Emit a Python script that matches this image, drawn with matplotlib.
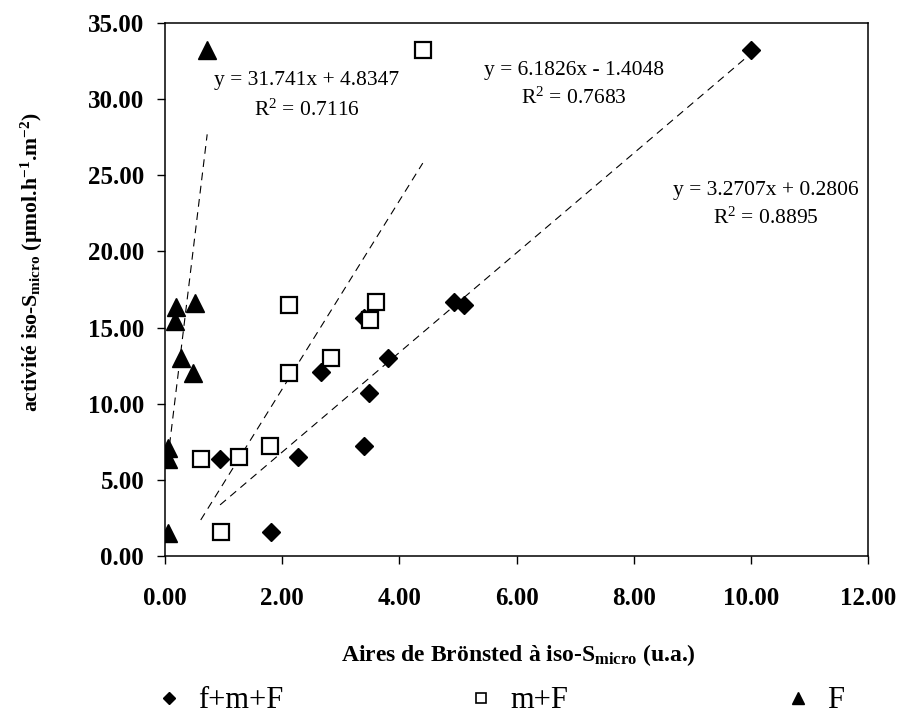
import matplotlib
matplotlib.use("Agg")
import matplotlib.pyplot as plt
from matplotlib.lines import Line2D
import numpy as np

plt.rcParams['font.family'] = ['Liberation Serif', 'DejaVu Serif']
plt.rcParams['mathtext.fontset'] = 'custom'
plt.rcParams['mathtext.rm'] = 'Liberation Serif'
plt.rcParams['mathtext.it'] = 'Liberation Serif:italic'
plt.rcParams['mathtext.bf'] = 'Liberation Serif:bold'

# ---- data ----
fmF_x = [10.0, 4.93, 5.10, 3.40, 3.80, 2.67, 3.48, 3.39, 2.27, 0.94, 1.81]
fmF_y = [33.2, 16.7, 16.5, 15.6, 13.0, 12.1, 10.7, 7.2, 6.5, 6.4, 1.6]
mF_x = [4.40, 3.61, 3.50, 2.11, 2.83, 2.11, 1.79, 1.26, 0.61, 0.95]
mF_y = [33.2, 16.7, 15.5, 16.5, 13.0, 12.0, 7.2, 6.5, 6.4, 1.6]
F_x = [0.72, 0.52, 0.19, 0.17, 0.27, 0.47, 0.05, 0.05, 0.05]
F_y = [33.2, 16.6, 16.35, 15.4, 13.0, 12.0, 7.1, 6.4, 1.5]

series_names = ['f+m+F', 'm+F', 'F']
# trendline coefficients (slope, intercept, R2) as displayed
fmF_fit = [3.2707, 0.2806, 0.8895]
mF_fit = [6.1826, -1.4048, 0.7683]
F_fit = [31.741, 4.8347, 0.7116]

x_ticks = [0, 2, 4, 6, 8, 10, 12]
y_ticks = [0, 5, 10, 15, 20, 25, 30, 35]

fig = plt.figure(figsize=(8.98, 7.20), dpi=100)
ax = fig.add_axes([165/898, 1-556/720, (868-165)/898, (556-23)/720])

# trendlines
for xs, fit in [(fmF_x, fmF_fit), (mF_x, mF_fit), (F_x, F_fit)]:
    xx = np.array([min(xs), max(xs)])
    ax.plot(xx, fit[0]*xx + fit[1], color='black', lw=0.8,
            dashes=(7, 5), zorder=2)

ax.plot(fmF_x, fmF_y, linestyle='none', marker='D', ms=9.2,
        color='black', zorder=3)
ax.plot(mF_x, mF_y, linestyle='none', marker='s', ms=11.5,
        mfc='white', mec='black', mew=1.6, zorder=4)
ax.plot(F_x, F_y, linestyle='none', marker='^', ms=13,
        color='black', zorder=5)

ax.set_xlim(0, 12)
ax.set_ylim(0, 35)
ax.set_xticks(x_ticks)
ax.set_yticks(y_ticks)
ax.set_xticklabels([f"{v:.2f}" for v in x_ticks], fontsize=18, fontweight='bold')
ax.set_yticklabels([f"{v:.2f}" for v in y_ticks], fontsize=18, fontweight='bold')
ax.tick_params(axis='both', direction='out', length=6, width=1.0)
ax.tick_params(axis='x', pad=16)
ax.tick_params(axis='y', pad=9)
for s in ax.spines.values():
    s.set_linewidth(1.1)

ax.set_xlabel(r"Aires de Brönsted à iso-S$_{\mathbf{micro}}$ (u.a.)",
              fontsize=17, fontweight='bold', va='center')
ax.xaxis.set_label_coords(0.503, (556-655)/533, transform=ax.transAxes)
ax.set_ylabel(r"activité iso-S$_{\mathbf{micro}}$ (µmol.h$^{\mathbf{-1}}$.m$^{\mathbf{-2}}$)",
              fontsize=15.7, fontweight='bold', va='center')
ax.yaxis.set_label_coords((32-165)/703, (556-262)/533, transform=ax.transAxes)

# equations
ann = [
    (F_fit, 307, 80, 110),
    (mF_fit, 574, 70, 98),
    (fmF_fit, 766, 190, 218),
]
for fit, px, py1, py2 in ann:
    sign = '+' if fit[1] >= 0 else '-'
    ax.text((px-165)/703, (556-py1)/533,
            f"y = {fit[0]}x {sign} {abs(fit[1])}", transform=ax.transAxes,
            ha='center', va='center', fontsize=15.5)
    ax.text((px-165)/703, (556-py2)/533,
            f"R$^2$ = {fit[2]}", transform=ax.transAxes,
            ha='center', va='center', fontsize=15.5)

# legend below
handles = [
    Line2D([], [], linestyle='none', marker='D', ms=6, color='black'),
    Line2D([], [], linestyle='none', marker='s', ms=7.5, mfc='white', mec='black', mew=1.2),
    Line2D([], [], linestyle='none', marker='^', ms=8, color='black'),
]
marker_px = [169, 481, 798]
for h, name, mx in zip(handles, series_names, marker_px):
    fs = 22
    half = 0.5 * fs * 100 / 72
    fig.legend(handles=[h], labels=[name], loc='center left',
               bbox_to_anchor=((mx - half)/898, 1-701/720),
               frameon=False, fontsize=fs, handlelength=1.0,
               handletextpad=0.45, borderpad=0, borderaxespad=0)

fig.savefig("out.png", dpi=100)
